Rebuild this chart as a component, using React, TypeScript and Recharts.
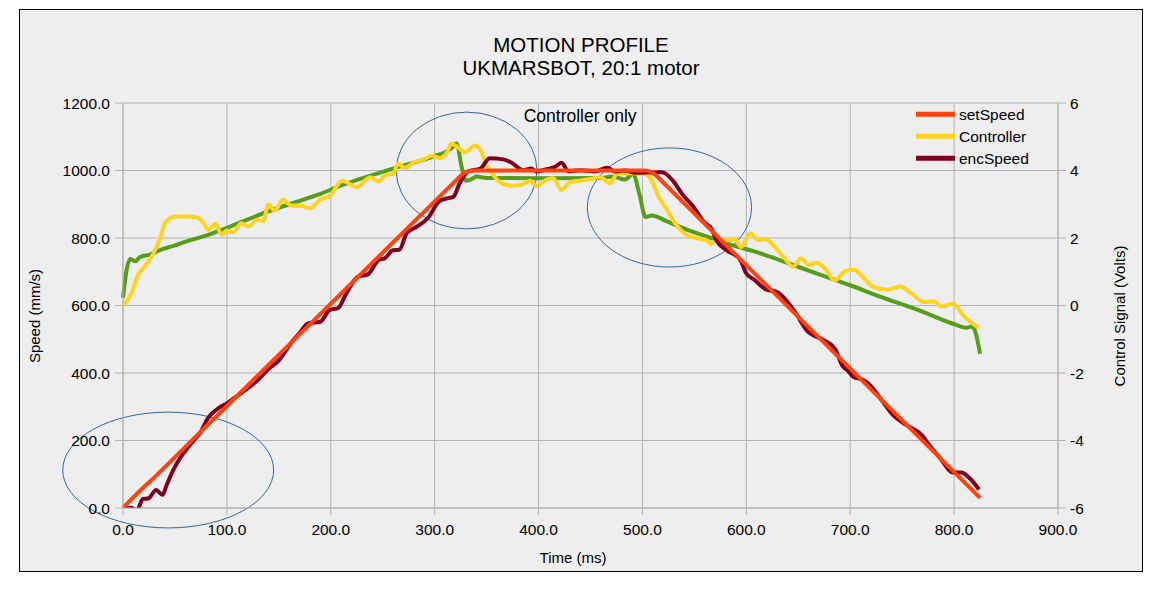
import React from 'react';
import {
  LineChart,
  Line,
  XAxis,
  YAxis,
  CartesianGrid,
  Legend,
  ReferenceArea,
  ReferenceDot,
} from 'recharts';

const FONT = '"Liberation Sans", Arial, Helvetica, sans-serif';

// ---- ticks ----
const timeTicks = [0, 100, 200, 300, 400, 500, 600, 700, 800, 900];
const speedTicks = [0, 200, 400, 600, 800, 1000, 1200];
const voltTicks = [-6, -4, -2, 0, 2, 4, 6];

// ---- setSpeed (mm/s) ----
const setSpeedTime = [0, 10, 20, 30, 325, 330, 335, 340, 500, 505, 510, 515, 825];
const setSpeedValue = [0, 32, 62, 90, 984, 996, 999, 1000, 1000, 999, 994, 980, 30];

// ---- encSpeed (mm/s) ----
const encSpeedTime = [
  0, 5, 9, 12, 15, 19, 24, 32, 38, 42, 48, 55, 62, 68, 74, 82, 93, 100, 110, 120,
  130, 140, 150, 157, 164, 170, 178, 190, 199, 207, 215, 226, 236, 246, 252, 260,
  266, 273, 282, 294, 304, 313, 318, 324, 332, 344, 353, 366, 374, 385, 393, 398,
  408, 416, 422, 429, 440, 454, 466, 474, 483, 493, 504, 514, 519, 530, 539, 549,
  559, 567, 571, 581, 594, 600, 607, 620, 629, 640, 648, 658, 674, 685, 693, 697,
  703, 712, 719, 729, 741, 754, 769, 777, 786, 799, 807, 815, 824,
];
const encSpeedValue = [
  0, 0, 0, -12, 0, 27, 28, 53, 39, 68, 110, 148, 178, 200, 222, 267, 298, 310, 332, 355,
  380, 412, 437, 468, 498, 518, 547, 552, 587, 592, 636, 685, 693, 735, 740, 764,
  765, 814, 832, 861, 908, 918, 922, 962, 997, 1006, 1036, 1033, 1023, 1001, 1006, 997,
  1004, 1011, 1023, 997, 1001, 997, 1008, 997, 1000, 993, 994, 994, 995, 967, 927, 893,
  848, 824, 794, 764, 736, 695, 678, 646, 641, 609, 575, 527, 498, 473, 419, 409,
  389, 380, 364, 325, 276, 246, 216, 182, 150, 105, 105, 88, 55,
];

// ---- Controller (Volts) ----
const controllerTime = [
  0, 8, 15, 21, 29, 36, 40, 45, 50, 61, 72, 77, 82, 89, 95, 100, 106, 114, 121, 129,
  135, 140, 146, 154, 162, 170, 180, 190, 199, 211, 225, 238, 246, 253, 260, 265,
  271, 281, 289, 297, 305, 312, 316, 323, 329, 339, 344, 350, 358, 366, 377, 385,
  392, 398, 406, 414, 422, 430, 440, 450, 459, 469, 476, 488, 502, 509, 515, 523,
  533, 542, 552, 562, 566, 571, 584, 589, 595, 604, 611, 618, 626, 636, 645, 653,
  660, 668, 677, 685, 695, 704, 709, 722, 735, 748, 759, 771, 780, 788, 799, 809,
  819, 824,
];
const controllerValue = [
  0, 0.35, 0.94, 1.16, 1.53, 2.02, 2.42, 2.58, 2.64, 2.64, 2.6, 2.47, 2.24, 2.42, 2.1, 2.22, 2.17, 2.44, 2.34, 2.54,
  2.5, 2.99, 2.81, 3.13, 2.96, 2.96, 2.88, 3.14, 3.24, 3.7, 3.51, 3.8, 3.68, 3.87, 3.9, 4.21,
  4.08, 4.26, 4.32, 4.44, 4.37, 4.54, 4.79, 4.67, 4.54, 4.74, 4.61, 4.15, 3.8, 3.6, 3.55, 3.6,
  3.7, 3.55, 3.7, 3.78, 3.42, 3.65, 3.7, 3.75, 3.8, 3.63, 3.92, 3.92, 3.9, 3.7, 3.26, 2.86,
  2.37, 2.1, 2.0, 1.93, 1.82, 1.93, 1.93, 1.98, 1.73, 2.14, 1.94, 1.97, 1.78, 1.43, 1.15, 1.4,
  1.2, 1.27, 1.05, 0.74, 1.02, 1.06, 0.94, 0.56, 0.47, 0.56, 0.36, 0.1, 0.13, -0.03, 0.05, -0.3,
  -0.56, -0.66,
];

// ---- motor voltage, green (Volts), not in legend ----
const motorVoltsTime = [
  0, 4, 7, 12, 16, 26, 36, 47, 61, 80, 100, 119, 141, 167, 190, 212, 235, 254, 276, 299,
  313, 317, 321, 326, 330, 336, 340, 350, 400, 460, 472, 483, 491, 497, 503, 509, 523, 536,
  562, 584, 610, 638, 664, 700, 728, 767, 799, 812, 817, 820, 825,
];
const motorVoltsValue = [
  0.23, 1.14, 1.38, 1.31, 1.43, 1.51, 1.65, 1.75, 1.9, 2.07, 2.3, 2.54, 2.8, 3.07, 3.31, 3.58, 3.82, 4.0, 4.2, 4.42,
  4.59, 4.68, 4.81, 4.1, 3.7, 3.75, 3.82, 3.78, 3.77, 3.78, 3.82, 3.73, 3.9, 3.31, 2.62, 2.67, 2.5, 2.33,
  2.04, 1.81, 1.58, 1.28, 0.99, 0.6, 0.27, -0.15, -0.54, -0.66, -0.62, -0.74, -1.43,
];

const legendOrder = ['setSpeed', 'Controller', 'encSpeed'];

// annotation ellipses (time ms / speed mm/s bounds)
const ellipses = [
  { t1: -58, t2: 145, s1: -59, s2: 284 },
  { t1: 263, t2: 398.5, s1: 827, s2: 1173 },
  { t1: 447, t2: 605, s1: 714, s2: 1067 },
];

const toPoints = (ts: number[], vs: number[]) => ts.map((t, i) => ({ t, v: vs[i] }));

const setSpeedData = toPoints(setSpeedTime, setSpeedValue);
const encSpeedData = toPoints(encSpeedTime, encSpeedValue);
const controllerData = toPoints(controllerTime, controllerValue);
const motorVoltsData = toPoints(motorVoltsTime, motorVoltsValue);

const GRID = '#b3b3b3';
const TICK_FONT = 15.5;

const renderLegend = (props: any) => {
  const payload: any[] = props.payload || [];
  const items = legendOrder
    .map((name) => payload.find((p) => p.value === name))
    .filter(Boolean);
  return (
    <svg width={170} height={70} style={{ display: 'block' }}>
      {items.map((e: any, i: number) => {
        const y = 11.3 + i * 22;
        return (
          <g key={e.value}>
            <line x1={0} x2={39} y1={y} y2={y} stroke={e.color} strokeWidth={5} />
            <text
              x={43}
              y={y}
              dominantBaseline="central"
              fontSize={15.5}
              fill="#000"
              fontFamily={FONT}
            >
              {e.value}
            </text>
          </g>
        );
      })}
    </svg>
  );
};

const leftLabel = (props: any) => {
  const vb = props.viewBox || {};
  const x = vb.x + 11;
  const y = vb.y + vb.height / 2 + 10.5;
  return (
    <text
      x={x}
      y={y}
      transform={`rotate(-90, ${x}, ${y})`}
      textAnchor="middle"
      dominantBaseline="central"
      fontSize={15}
      fill="#000"
      fontFamily={FONT}
    >
      Speed (mm/s)
    </text>
  );
};

const rightLabel = (props: any) => {
  const vb = props.viewBox || {};
  const x = vb.x + 61;
  const y = vb.y + vb.height / 2 + 10.5;
  return (
    <text
      x={x}
      y={y}
      transform={`rotate(-90, ${x}, ${y})`}
      textAnchor="middle"
      dominantBaseline="central"
      fontSize={15}
      fill="#000"
      fontFamily={FONT}
    >
      Control Signal (Volts)
    </text>
  );
};

const bottomLabel = (props: any) => {
  const vb = props.viewBox || {};
  const x = vb.x + vb.width / 2 - 17.5;
  const y = vb.y + 55.3;
  return (
    <text x={x} y={y} textAnchor="middle" fontSize={15} fill="#000" fontFamily={FONT}>
      Time (ms)
    </text>
  );
};

const ellipseShape = (p: any) => {
  const w = Math.abs(p.width);
  const h = Math.abs(p.height);
  const x = p.width < 0 ? p.x + p.width : p.x;
  const y = p.height < 0 ? p.y + p.height : p.y;
  return (
    <ellipse
      cx={x + w / 2}
      cy={y + h / 2}
      rx={w / 2}
      ry={h / 2}
      fill="none"
      stroke="#3465a4"
      strokeWidth={1}
    />
  );
};

const noteShape = (p: any) => (
  <text
    x={p.cx}
    y={p.cy}
    textAnchor="middle"
    fontSize={17.5}
    fill="#000"
    fontFamily={FONT}
  >
    Controller only
  </text>
);

export default function App() {
  return (
    <div style={{ position: 'relative', width: 1148, height: 575, fontFamily: FONT }}>
      <div
        style={{
          position: 'absolute',
          left: 11,
          top: 1,
          width: 1122,
          height: 561,
          border: '1px solid #000',
          background: '#eeeeee',
        }}
      >
        <LineChart
          width={1122}
          height={561}
          margin={{ top: 93, right: 4, bottom: 3, left: 3 }}
        >
          <CartesianGrid stroke={GRID} yAxisId="left" strokeWidth={1} />
          <XAxis
            type="number"
            dataKey="t"
            domain={[0, 900]}
            ticks={timeTicks}
            tickFormatter={(v: number) => v.toFixed(1)}
            height={60}
            tickSize={7}
            tickMargin={9}
            axisLine={{ stroke: GRID }}
            tickLine={{ stroke: GRID }}
            tick={{ fontSize: TICK_FONT, fill: '#000' }}
            interval={0}
            label={bottomLabel}
          />
          <YAxis
            yAxisId="left"
            domain={[0, 1200]}
            ticks={speedTicks}
            allowDataOverflow
            tickFormatter={(v: number) => v.toFixed(1)}
            width={100}
            tickSize={8}
            tickMargin={5}
            axisLine={{ stroke: GRID }}
            tickLine={{ stroke: GRID }}
            tick={{ fontSize: TICK_FONT, fill: '#000' }}
            interval={0}
            label={leftLabel}
          />
          <YAxis
            yAxisId="right"
            orientation="right"
            domain={[-6, 6]}
            ticks={voltTicks}
            allowDataOverflow
            width={80}
            tickSize={8}
            tickMargin={4}
            axisLine={{ stroke: GRID }}
            tickLine={{ stroke: GRID }}
            tick={{ fontSize: TICK_FONT, fill: '#000' }}
            interval={0}
            label={rightLabel}
          />
          <Legend
            layout="vertical"
            align="center"
            verticalAlign="middle"
            content={renderLegend}
            wrapperStyle={{ position: 'absolute', left: 896, top: 93, width: 170, height: 70 }}
          />
          <Line
            data={motorVoltsData}
            dataKey="v"
            name="motorVolts"
            yAxisId="right"
            type="monotone"
            stroke="#579d1c"
            strokeWidth={4}
            dot={false}
            legendType="none"
            isAnimationActive={false}
          />
          <Line
            data={controllerData}
            dataKey="v"
            name="Controller"
            yAxisId="right"
            type="monotone"
            stroke="#ffd320"
            strokeWidth={4}
            dot={false}
            isAnimationActive={false}
          />
          <Line
            data={encSpeedData}
            dataKey="v"
            name="encSpeed"
            yAxisId="left"
            type="monotone"
            stroke="#7e0021"
            strokeWidth={4}
            dot={false}
            isAnimationActive={false}
          />
          <Line
            data={setSpeedData}
            dataKey="v"
            name="setSpeed"
            yAxisId="left"
            type="linear"
            stroke="#ff420e"
            strokeWidth={4}
            strokeLinejoin="round"
            dot={false}
            isAnimationActive={false}
          />
          {ellipses.map((e, i) => (
            <ReferenceArea
              key={i}
              yAxisId="left"
              x1={e.t1}
              x2={e.t2}
              y1={e.s1}
              y2={e.s2}
              ifOverflow="visible"
              shape={ellipseShape}
            />
          ))}
          <ReferenceDot
            yAxisId="left"
            x={440}
            y={1145}
            r={1}
            shape={noteShape}
          />
        </LineChart>
        <div
          style={{
            position: 'absolute',
            left: 0,
            top: 23,
            width: '100%',
            textAlign: 'center',
            fontSize: 20.5,
            lineHeight: '23.3px',
            color: '#000',
            fontFamily: FONT,
            pointerEvents: 'none',
          }}
        >
          <div>MOTION PROFILE</div>
          <div>UKMARSBOT, 20:1 motor</div>
        </div>
      </div>
    </div>
  );
}
